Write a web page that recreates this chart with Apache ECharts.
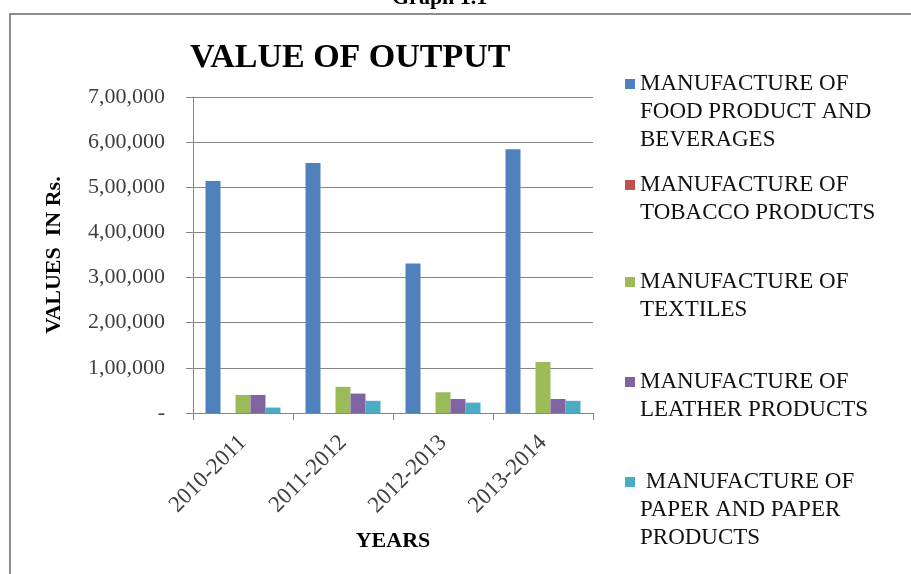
<!DOCTYPE html>
<html>
<head>
<meta charset="utf-8">
<title>Value of Output</title>
<script src="https://cdn.jsdelivr.net/npm/echarts@6/dist/echarts.min.js"></script>
<style>
  html, body { margin: 0; padding: 0; background: #fff; }
  #chart { width: 911px; height: 574px; }
</style>
</head>
<body>
<div id="chart"></div>
<script>
// chart data
const years = ['2010-2011', '2011-2012', '2012-2013', '2013-2014'];
const seriesNames = [
  'MANUFACTURE OF\nFOOD PRODUCT AND\nBEVERAGES',
  'MANUFACTURE OF\nTOBACCO PRODUCTS',
  'MANUFACTURE OF\nTEXTILES',
  'MANUFACTURE OF\nLEATHER PRODUCTS',
  ' MANUFACTURE OF\nPAPER AND PAPER\nPRODUCTS'
];
const food = [514000, 554000, 331000, 584000];
const tobacco = [0, 0, 0, 0];
const textiles = [40000, 58000, 46000, 113000];
const leather = [40000, 43000, 31000, 31000];
const paper = [12000, 27000, 23000, 27000];
const yTickLabels = ['-', '1,00,000', '2,00,000', '3,00,000', '4,00,000', '5,00,000', '6,00,000', '7,00,000'];

const colors = ['#4F81BD', '#C0504D', '#9BBB59', '#8064A2', '#4BACC6'];
const serif = '"Liberation Serif", "Times New Roman", serif';
const allValues = [food, tobacco, textiles, leather, paper];

// legend icon centres (Excel spreads the entries down the side)
const legendIconY = [83, 184, 281, 381, 481];
const LH = 28;

const chart = echarts.init(document.getElementById('chart'));

// icon sits on the first line: pad the text with blank lines on top so
// that the first real line lands in the middle of the block
const legends = seriesNames.map((name, i) => {
  const lines = name.split('\n').length;
  const h = (2 * lines - 1) * LH;
  return {
    data: [name],
    orient: 'vertical',
    left: 620,
    top: legendIconY[i] - 4 - h / 2,
    itemWidth: 10,
    itemHeight: 10,
    itemGap: 0,
    icon: 'rect',
    selectedMode: false,
    formatter: (n) => '\n'.repeat(lines - 1) + n,
    textStyle: {
      fontFamily: serif,
      fontSize: 23,
      lineHeight: LH,
      color: '#111'
    }
  };
});

const option = {
  animation: false,
  color: colors,
  title: {
    text: 'VALUE OF OUTPUT',
    left: 185,
    top: 36,
    textStyle: {
      fontFamily: serif,
      fontSize: 34,
      fontWeight: 'bold',
      color: '#000'
    }
  },
  legend: legends,
  grid: {
    left: 193,
    right: 318,
    top: 97,
    bottom: 161,
    containLabel: false
  },
  xAxis: {
    type: 'category',
    data: years,
    name: 'YEARS',
    nameLocation: 'middle',
    nameGap: 117,
    nameTextStyle: {
      fontFamily: serif,
      fontSize: 22,
      fontWeight: 'bold',
      color: '#000'
    },
    axisLine: { lineStyle: { color: '#868686', width: 1 } },
    axisTick: { show: true, length: 7, lineStyle: { color: '#868686' } },
    axisLabel: {
      interval: 0,
      rotate: 45,
      margin: 26,
      fontFamily: serif,
      fontSize: 23,
      color: '#404040'
    }
  },
  yAxis: {
    type: 'value',
    min: 0,
    max: 700000,
    interval: 100000,
    name: 'VALUES  IN Rs.',
    nameLocation: 'middle',
    nameGap: 128,
    nameTextStyle: {
      fontFamily: serif,
      fontSize: 22,
      fontWeight: 'bold',
      color: '#000'
    },
    axisLine: { show: true, lineStyle: { color: '#868686', width: 1 } },
    axisTick: { show: true, length: 7, lineStyle: { color: '#868686' } },
    splitLine: { lineStyle: { color: '#868686', width: 1 } },
    axisLabel: {
      margin: 28,
      fontFamily: serif,
      fontSize: 22,
      color: '#404040',
      formatter: (v) => yTickLabels[Math.round(v / 100000)]
    }
  },
  series: seriesNames.map((name, i) => ({
    name: name,
    type: 'bar',
    data: allValues[i],
    barGap: '0%',
    barCategoryGap: '25%'
  })),
  graphic: [
    {
      type: 'rect',
      shape: { x: 10, y: 14, width: 920, height: 600 },
      style: { fill: 'none', stroke: '#8c8c8c', lineWidth: 2 },
      silent: true
    },
    {
      type: 'text',
      left: 392,
      top: -13,
      style: {
        text: 'Graph 1.1',
        font: 'bold 22px ' + serif,
        fill: '#000'
      },
      silent: true
    }
  ]
};

chart.setOption(option);
</script>
</body>
</html>
